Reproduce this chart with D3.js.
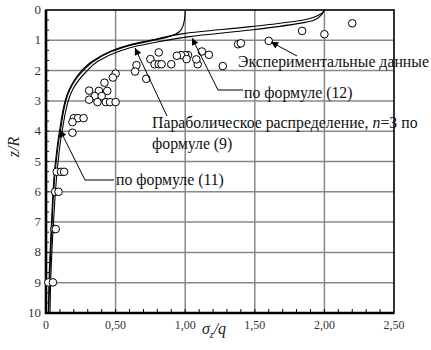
<!DOCTYPE html>
<html><head><meta charset="utf-8">
<script src="https://cdn.jsdelivr.net/npm/d3@7"></script>
<style>body{margin:0;background:#fff}svg{display:block}</style>
</head><body><svg id="c" width="431" height="350"></svg>
<script>
// ---- data ----
const xTicks = [0, 0.5, 1.0, 1.5, 2.0, 2.5];
const yTicks = [0,1,2,3,4,5,6,7,8,9,10];
// experimental points [sigma_z/q, z/R]
const expSigma = [2.20,2.00,1.84,1.60,1.38,1.40,1.27,1.17,1.12,1.09,1.08,1.02,1.00,0.97,0.94,0.90,1.01,0.81,0.75,0.78,0.81,0.83,0.65,0.64,0.72,0.50,0.48,0.42,0.31,0.38,0.44,0.35,0.40,0.31,0.37,0.43,0.46,0.50,0.20,0.23,0.27,0.19,0.19,0.077,0.108,0.13,0.065,0.09,0.06,0.07,0.017,0.05];
const expZ     = [0.44,0.80,0.69,1.02,1.13,1.10,1.85,1.48,1.37,1.79,1.63,1.49,1.49,1.49,1.51,1.79,1.62,1.40,1.62,1.79,1.79,1.79,1.82,2.03,2.27,2.10,2.23,2.40,2.66,2.67,2.67,2.84,2.84,2.96,3.04,3.04,3.04,3.04,3.57,3.57,3.57,3.70,4.05,5.34,5.34,5.34,6.00,6.00,7.23,7.23,8.99,8.99];
// parabolic distribution n=3, formula (9)
const f9Sigma = [2.00,1.98,1.85,1.47,1.00,0.75,0.60,0.46,0.33,0.25,0.165,0.098,0.062,0.038,0.022,0.017];
const f9Z     = [0.00,0.11,0.33,0.55,0.77,1.00,1.15,1.37,1.70,2.03,2.64,3.96,5.28,7.15,8.90,10.0];
// formula (12)
const f12Sigma = [2.00,1.98,1.92,1.87,1.47,1.03,0.75,0.66,0.52,0.37,0.29,0.19,0.117,0.081,0.052,0.034,0.029];
const f12Z     = [0.00,0.15,0.35,0.40,0.66,0.88,1.10,1.18,1.37,1.70,2.03,2.64,3.96,5.28,7.15,8.90,10.0];
// formula (11)
const f11Sigma = [1.00,0.998,0.986,0.96,0.89,0.75,0.61,0.47,0.34,0.26,0.17,0.104,0.067,0.042,0.026,0.019];
const f11Z     = [0.00,0.20,0.50,0.71,0.87,1.02,1.16,1.37,1.70,2.03,2.64,3.96,5.28,7.15,8.90,10.0];

// ---- chart ----
const FONT = "'Liberation Serif'";
const svg = d3.select("#c");
const x = d3.scaleLinear().domain([0,2.5]).range([46,394]);
const y = d3.scaleLinear().domain([0,10]).range([10,313]);
const fmt = v => v===0 ? "0" : d3.format(".2f")(v).replace(".", ",");

// grid
svg.append("g").selectAll("line").data(xTicks.slice(1,-1)).join("line")
  .attr("x1",d=>x(d)).attr("x2",d=>x(d)).attr("y1",y(0)).attr("y2",y(10))
  .attr("stroke","#888").attr("stroke-width",1.5);
svg.append("g").selectAll("line").data(yTicks.slice(1,-1)).join("line")
  .attr("y1",d=>y(d)).attr("y2",d=>y(d)).attr("x1",x(0)).attr("x2",x(2.5))
  .attr("stroke","#888").attr("stroke-width",1.5);

// minor ticks
const xMinor = d3.range(1,25).map(i=>i/10);
svg.append("g").selectAll("line").data(xMinor).join("line")
  .attr("x1",d=>x(d)).attr("x2",d=>x(d)).attr("y1",y(10)).attr("y2",y(10)-4)
  .attr("stroke","#000").attr("stroke-width",1);
const yMinor = d3.range(1,30).map(i=>i/3);
svg.append("g").selectAll("line").data(yMinor).join("line")
  .attr("y1",d=>y(d)).attr("y2",d=>y(d)).attr("x1",x(0)).attr("x2",x(0)+3)
  .attr("stroke","#000").attr("stroke-width",1);

// frame
svg.append("rect").attr("x",x(0)).attr("y",y(0)).attr("width",x(2.5)-x(0)).attr("height",y(10)-y(0))
  .attr("fill","none").attr("stroke","#000").attr("stroke-width",1.6);
svg.append("line").attr("x1",x(0)).attr("x2",x(0)).attr("y1",y(0)).attr("y2",y(10)+1).attr("stroke","#000").attr("stroke-width",2.6);
svg.append("line").attr("x1",x(0)-1).attr("x2",x(2.5)).attr("y1",y(10)).attr("y2",y(10)).attr("stroke","#000").attr("stroke-width",2.6);

// tick labels
svg.append("g").selectAll("text").data(xTicks).join("text")
  .attr("font-family",FONT)
  .attr("x",d=>x(d)).attr("y",329).attr("text-anchor","middle")
  .attr("font-size",12).attr("fill","#333").text(fmt);
svg.append("g").selectAll("text").data(yTicks).join("text")
  .attr("font-family",FONT)
  .attr("x",41).attr("y",d=>y(d)+4).attr("text-anchor","end")
  .attr("font-size",13).attr("fill","#333").text(d=>d);

// axis titles
const yt = svg.append("text").attr("transform","translate(19,147) rotate(-90)").attr("font-family",FONT)
  .attr("text-anchor","middle").attr("font-size",16).attr("font-style","italic").attr("fill","#222");
yt.text("z/R");
const xt = svg.append("text").attr("x",214).attr("y",334).attr("text-anchor","middle").attr("font-family",FONT)
  .attr("font-size",16).attr("font-style","italic").attr("fill","#222");
xt.append("tspan").text("σ");
xt.append("tspan").attr("font-size",10).attr("dy",4).text("z");
xt.append("tspan").attr("dy",-4).text("/q");

// curves
const line = d3.line().x(d=>x(d[0])).y(d=>y(d[1])).curve(d3.curveMonotoneY);
const curves = [
  d3.zip(f9Sigma,f9Z), d3.zip(f12Sigma,f12Z), d3.zip(f11Sigma,f11Z)
];
svg.append("g").selectAll("path").data(curves).join("path")
  .attr("d",line).attr("fill","none").attr("stroke","#000").attr("stroke-width",1.1);

// experimental points
svg.append("g").selectAll("circle").data(d3.zip(expSigma,expZ)).join("circle")
  .attr("cx",d=>x(d[0])).attr("cy",d=>y(d[1])).attr("r",3.8)
  .attr("fill","#fff").attr("stroke","#000").attr("stroke-width",1);

// annotations
const defs = svg.append("defs");
defs.append("marker").attr("id","ar").attr("viewBox","0 0 10 10").attr("refX",10).attr("refY",5)
  .attr("markerWidth",9).attr("markerHeight",7).attr("markerUnits","userSpaceOnUse").attr("orient","auto")
  .append("path").attr("d","M0,0L10,5L0,10z").attr("fill","#000");
const lead = (pts) => svg.append("path").attr("d",d3.line()(pts)).attr("fill","none")
  .attr("stroke","#000").attr("stroke-width",1).attr("marker-end","url(#ar)");
lead([[297,56],[271,42]]);
lead([[243,90],[218,90],[192,38]]);
lead([[167,116],[135,48]]);
lead([[114,180],[85,180],[60,130]]);

const ann = (tx,ty,parts) => {
  const t = svg.append("text").attr("x",tx).attr("y",ty).attr("font-family",FONT).attr("font-size",15.8).attr("fill","#111");
  parts.forEach(p => { const s=t.append("tspan").text(p[0]); if(p[1]) s.attr("font-style","italic"); });
};
ann(238,67,[["Экспериментальные данные"]]);
ann(244,98,[["по формуле (12)"]]);
ann(152,128,[["Параболическое распределение, "],["n",1],["=3 по"]]);
ann(152,149,[["формуле (9)"]]);
ann(116,185,[["по формуле (11)"]]);
</script></body></html>
